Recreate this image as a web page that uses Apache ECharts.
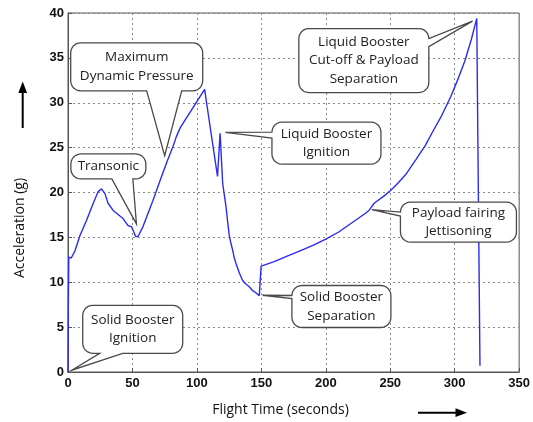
<!DOCTYPE html>
<html>
<head>
<meta charset="utf-8">
<script src="https://cdn.jsdelivr.net/npm/echarts@6/dist/echarts.min.js"></script>
<style>
  html, body { margin: 0; padding: 0; background: #ffffff; }
  #chart { width: 533px; height: 422px; }
</style>
</head>
<body>
<div id="chart"></div>
<script>
// Launch acceleration profile: flight time (s) against acceleration (g)
const flightTime = [
  0, 0.3, 0.6, 2.5, 5.4, 9.3, 14.4, 19.6, 23.4, 26, 28.6, 31.1, 35, 42.7, 46.6,
  49.2, 50.5, 52.5, 54.3, 58.2, 65.9, 71.1, 77, 81.4, 84, 87, 94, 100.7, 106,
  111, 116, 118, 120, 121.3, 122.6, 123.8, 125, 126.3, 127.7, 129, 131, 133,
  135.5, 138, 140.6, 143, 146, 148.4, 149.3,
  149.8, 160, 170, 180, 190, 200, 210, 220, 230, 233.5, 235.5, 237.5, 245, 250,
  255, 262, 270, 277, 283, 290, 297, 303, 308, 313, 317.1, 318.4, 319.6
];
const acceleration = [
  0, 8.5, 12.8, 12.7, 13.5, 15.2, 16.9, 18.8, 20.1, 20.4, 19.9, 18.8, 18.0, 17.1, 16.3,
  16.2, 15.8, 15.1, 15.1, 16.2, 19.1, 21.2, 23.5, 25.1, 26.2, 27.2, 28.8, 30.3, 31.5,
  26.6, 21.8, 26.6, 21.0, 19.7, 18.4, 16.8, 15.3, 14.4, 13.6, 12.7, 11.8, 11.0,
  10.2, 9.8, 9.5, 9.1, 8.8, 8.5, 8.6,
  11.8, 12.3, 12.9, 13.5, 14.1, 14.8, 15.6, 16.6, 17.6, 18.0, 18.4, 18.8, 19.6, 20.2,
  20.9, 22.0, 23.7, 25.2, 26.8, 28.6, 30.7, 32.8, 34.7, 37.1, 39.4, 19.1, 0.7
];

// Flight events and the point on the profile each one refers to
const eventNames = [
  'Maximum\nDynamic Pressure',
  'Transonic',
  'Liquid Booster\nIgnition',
  'Liquid Booster\nCut-off & Payload\nSeparation',
  'Payload fairing\nJettisoning',
  'Solid Booster\nSeparation',
  'Solid Booster\nIgnition'
];
const eventTime  = [75, 53.1, 122.1, 313.8, 235.7, 150.9, 2.9];
const eventAccel = [24.1, 16.5, 26.7, 39.1, 18.1, 8.55, 0.2];

// Callout placement: box centre in axis units, box size in px,
// and where the pointer leaves the box (edge + offsets along that edge)
const calloutLayout = [
  { t: 53.3,  g: 34.0, w: 132, h: 48, side: 'bottom', a: 76, b: 111 },
  { t: 31.3,  g: 22.9, w: 75,  h: 25, side: 'bottom', a: 41, b: 62 },
  { t: 200.5, g: 25.5, w: 109, h: 42, side: 'left',   a: 7,  b: 16 },
  { t: 229.5, g: 34.7, w: 130, h: 64, side: 'right',  a: 8,  b: 18 },
  { t: 302.9, g: 16.7, w: 116, h: 40, side: 'left',   a: 7,  b: 14 },
  { t: 212.1, g: 7.3,  w: 99,  h: 42, side: 'left',   a: 7,  b: 13 },
  { t: 50.2,  g: 4.76, w: 100, h: 48, side: 'bottom', a: 17, b: 40 }
];

// Rounded box outline with a pointer, as a list of polygon points
function bubblePoints(x, y, w, h, r, side, a, b, tip) {
  const pts = [];
  const arc = (cx, cy, from, to) => {
    const n = 6;
    for (let i = 0; i <= n; i++) {
      const th = from + (to - from) * i / n;
      pts.push([cx + r * Math.cos(th), cy + r * Math.sin(th)]);
    }
  };
  pts.push([x + r, y]);
  pts.push([x + w - r, y]);
  arc(x + w - r, y + r, -Math.PI / 2, 0);
  if (side === 'right') { pts.push([x + w, y + Math.max(a, r)], tip, [x + w, y + b]); }
  pts.push([x + w, y + h - r]);
  arc(x + w - r, y + h - r, 0, Math.PI / 2);
  if (side === 'bottom') { pts.push([x + b, y + h], tip, [x + a, y + h]); }
  pts.push([x + r, y + h]);
  arc(x + r, y + h - r, Math.PI / 2, Math.PI);
  if (side === 'left') { pts.push([x, y + b], tip, [x, y + Math.max(a, r)]); }
  pts.push([x, y + r]);
  arc(x + r, y + r, Math.PI, Math.PI * 1.5);
  return pts;
}

const chart = echarts.init(document.getElementById('chart'), null, { renderer: 'canvas' });

const tickLabel = {
  fontFamily: '"Liberation Sans", Arial, sans-serif',
  fontWeight: 'bold',
  fontSize: 13,
  color: '#111'
};
const gridLine = { show: true, lineStyle: { color: '#8a8a8a', type: [2, 3], width: 1 } };

chart.setOption({
  animation: false,
  backgroundColor: '#ffffff',
  grid: {
    left: 68, right: 12, top: 13, bottom: 50,
    show: true, borderColor: '#555', borderWidth: 1, backgroundColor: 'transparent'
  },
  xAxis: {
    type: 'value', min: 0, max: 350, interval: 50,
    axisLine: { show: true, onZero: false, lineStyle: { color: '#555', width: 1 } },
    axisTick: { show: true, inside: true, length: 4, lineStyle: { color: '#555' } },
    axisLabel: Object.assign({ margin: 5 }, tickLabel),
    splitLine: gridLine
  },
  yAxis: {
    type: 'value', min: 0, max: 40, interval: 5,
    axisLine: { show: true, onZero: false, lineStyle: { color: '#555', width: 1 } },
    axisTick: { show: true, inside: true, length: 4, lineStyle: { color: '#555' } },
    axisLabel: Object.assign({ margin: 4 }, tickLabel),
    splitLine: gridLine
  },
  series: [
    {
      type: 'line',
      data: flightTime.map((t, i) => [t, acceleration[i]]),
      showSymbol: false,
      symbol: 'none',
      lineStyle: { color: '#2b2bf2', width: 1.4 },
      z: 3,
      silent: true
    },
    {
      type: 'custom',
      data: eventTime.map((t, i) => [t, eventAccel[i]]),
      encode: { x: 0, y: 1 },
      clip: false,
      silent: true,
      z: 10,
      renderItem: function (params, api) {
        const i = params.dataIndex;
        const L = calloutLayout[i];
        const tip = api.coord([api.value(0), api.value(1)]);
        const c = api.coord([L.t, L.g]);
        const x = c[0] - L.w / 2, y = c[1] - L.h / 2;
        return {
          type: 'group',
          children: [
            {
              type: 'polygon',
              shape: { points: bubblePoints(x, y, L.w, L.h, 10, L.side, L.a, L.b, tip) },
              style: { fill: '#ffffff', stroke: '#4a4a4a', lineWidth: 1.3 }
            },
            {
              type: 'text',
              style: {
                text: eventNames[i],
                x: c[0], y: c[1],
                align: 'center', verticalAlign: 'middle',
                font: '13.5px "Open Sans", sans-serif',
                lineHeight: 18.7,
                fill: '#222'
              }
            }
          ]
        };
      }
    }
  ],
  graphic: [
    {
      type: 'text', x: 20, y: 228, rotation: Math.PI / 2,
      style: {
        text: 'Acceleration (g)', align: 'center', verticalAlign: 'middle',
        font: '14px "Open Sans", sans-serif', fill: '#111'
      }
    },
    {
      type: 'text', x: 280.5, y: 410,
      style: {
        text: 'Flight Time (seconds)', align: 'center', verticalAlign: 'middle',
        font: '14px "Open Sans", sans-serif', fill: '#111'
      }
    },
    // direction arrows beside the axis titles
    { type: 'line', shape: { x1: 22.7, y1: 128, x2: 22.7, y2: 91 }, style: { stroke: '#000', lineWidth: 2 } },
    { type: 'polygon', shape: { points: [[22.7, 81.5], [18.3, 93], [27.1, 93]] }, style: { fill: '#000' } },
    { type: 'line', shape: { x1: 418, y1: 412.7, x2: 457, y2: 412.7 }, style: { stroke: '#000', lineWidth: 2 } },
    { type: 'polygon', shape: { points: [[467, 412.7], [455.5, 408.3], [455.5, 417.1]] }, style: { fill: '#000' } }
  ]
});
</script>
</body>
</html>
